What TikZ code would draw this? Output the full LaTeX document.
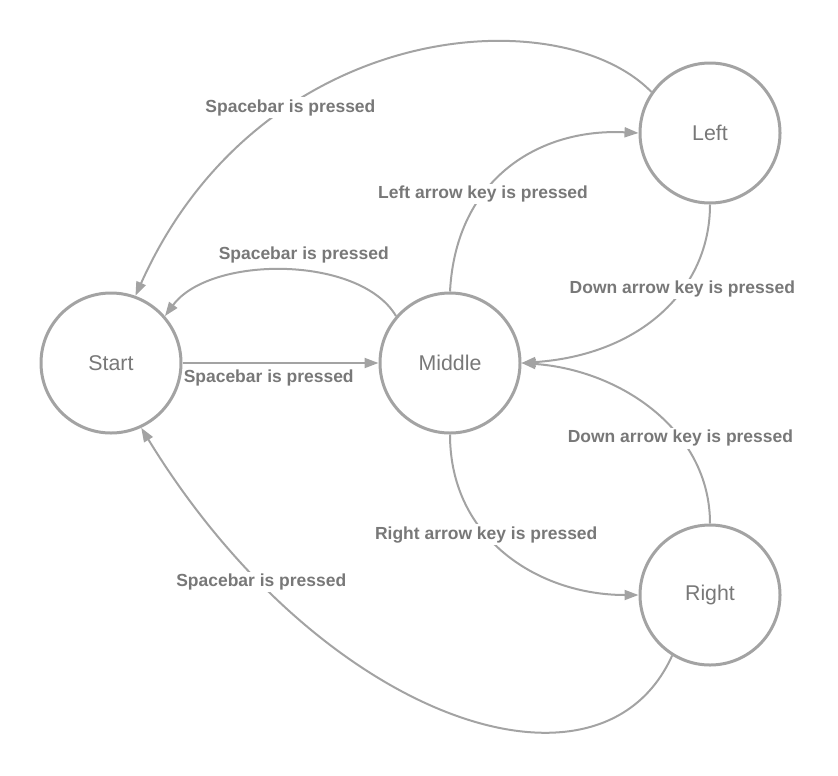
\documentclass[tikz,border=0pt]{standalone}
\usepackage{fontspec}
\setmainfont{Liberation Sans}
\usetikzlibrary{arrows.meta}
\definecolor{linegray}{RGB}{163,163,163}
\definecolor{textgray}{RGB}{120,120,120}
\begin{document}
\begin{tikzpicture}[x=0.75pt,y=-0.75pt,
  state/.style={circle,draw=linegray,line width=2.25pt,minimum size=105pt,inner sep=0pt,
    text=textgray,font=\fontsize{16}{19}\selectfont},
  edge/.style={draw=linegray,line width=1.5pt,-{Triangle[length=10.5pt,width=7.5pt]}},
  lbl/.style={fill=white,text=textgray,inner sep=1.5pt,font=\fontsize{13.1}{15}\selectfont\bfseries}]
\useasboundingbox (0,0) rectangle (838,775);
\node[state] (start) at (111,363) {Start};
\node[state] (middle) at (450,363) {Middle};
\node[state] (left) at (710,133) {Left};
\node[state] (right) at (710,595) {Right};
% Start -> Middle
\draw[edge] (start.east) -- node[pos=0.44,below,lbl,fill=none,inner sep=4.5pt] {Spacebar is pressed} (middle.west);
% Middle -> Start (upper arc)
\draw[edge] (middle.139) .. controls (360,255) and (210,255) .. node[pos=0.43,above,lbl,fill=none,inner sep=5pt] {Spacebar is pressed} (start.41);
% Left -> Start (big top arc)
\draw[edge] (left.145) .. controls (560,-2) and (260,18) .. node[pos=0.69,lbl] {Spacebar is pressed} (start.70);
% Middle -> Left
\draw[edge] (middle.north) .. controls (456,178) and (540,128) .. node[pos=0.355,lbl] {Left arrow key is pressed} (left.west);
% Left -> Middle
\draw[edge] (left.south) .. controls (710,290) and (640,355) .. node[pos=0.37,lbl] {Down arrow key is pressed} (middle.east);
% Right -> Middle
\draw[edge] (right.north) .. controls (710,430) and (620,370) .. node[pos=0.35,lbl] {Down arrow key is pressed} (middle.east);
% Middle -> Right
\draw[edge] (middle.south) .. controls (450,540) and (540,595) .. node[pos=0.39,lbl] {Right arrow key is pressed} (right.west);
% Right -> Start (bottom arc)
\draw[edge] (right.238) .. controls (600,815) and (320,720) .. node[pos=0.795,lbl] {Spacebar is pressed} (start.295);
\end{tikzpicture}
\end{document}
